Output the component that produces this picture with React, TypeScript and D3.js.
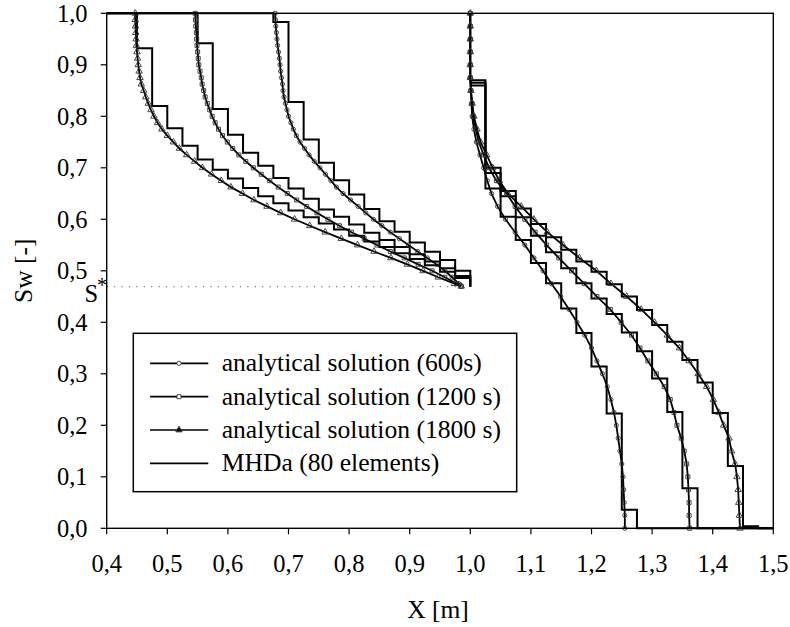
import React from "react";
import * as d3 from "d3";

// ---------- data ----------
const xTicks = [0.4, 0.5, 0.6, 0.7, 0.8, 0.9, 1.0, 1.1, 1.2, 1.3, 1.4, 1.5];
const xTickLabels = ["0,4", "0,5", "0,6", "0,7", "0,8", "0,9", "1,0", "1,1", "1,2", "1,3", "1,4", "1,5"];
const yTicks = [0, 0.1, 0.2, 0.3, 0.4, 0.5, 0.6, 0.7, 0.8, 0.9, 1.0];
const yTickLabels = ["0,0", "0,1", "0,2", "0,3", "0,4", "0,5", "0,6", "0,7", "0,8", "0,9", "1,0"];

const sStar = 0.469;

// analytical solution, left branch (saturation levels and positions)
const leftLevels = [1.0, 0.9875, 0.975, 0.9625, 0.95, 0.9375, 0.925, 0.9125, 0.9, 0.8875, 0.875, 0.8625, 0.85, 0.8375, 0.825, 0.8125, 0.8, 0.7875, 0.775, 0.7625, 0.75, 0.7375, 0.725, 0.7125, 0.7, 0.6875, 0.675, 0.6625, 0.65, 0.6375, 0.625, 0.6125, 0.6, 0.5875, 0.575, 0.5625, 0.55, 0.5375, 0.525, 0.5125, 0.5, 0.4875, 0.475, 0.47];
const left600 = [0.678, 0.6785, 0.679, 0.68, 0.681, 0.682, 0.6835, 0.685, 0.686, 0.687, 0.6885, 0.69, 0.691, 0.6925, 0.695, 0.6975, 0.7, 0.704, 0.708, 0.713, 0.719, 0.7265, 0.734, 0.7425, 0.752, 0.761, 0.77, 0.779, 0.79, 0.8025, 0.815, 0.8275, 0.84, 0.854, 0.868, 0.883, 0.898, 0.913, 0.929, 0.944, 0.958, 0.97, 0.981, 0.985];
const left1200 = [0.546, 0.5465, 0.547, 0.548, 0.5485, 0.549, 0.55, 0.551, 0.552, 0.554, 0.556, 0.5575, 0.56, 0.5625, 0.566, 0.57, 0.574, 0.579, 0.5845, 0.591, 0.599, 0.608, 0.618, 0.6295, 0.642, 0.655, 0.669, 0.683, 0.698, 0.7135, 0.73, 0.747, 0.765, 0.784, 0.804, 0.825, 0.846, 0.868, 0.891, 0.914, 0.937, 0.958, 0.978, 0.985];
const left1800 = [0.447, 0.447, 0.4475, 0.448, 0.4485, 0.449, 0.45, 0.451, 0.452, 0.4535, 0.455, 0.457, 0.461, 0.4645, 0.4685, 0.473, 0.478, 0.484, 0.491, 0.5, 0.51, 0.52, 0.532, 0.545, 0.558, 0.573, 0.589, 0.605, 0.624, 0.643, 0.6645, 0.687, 0.71, 0.735, 0.7605, 0.787, 0.814, 0.841, 0.869, 0.896, 0.922, 0.947, 0.974, 0.985];

// analytical solution, right branch
const rightLevels = [1.0, 0.975, 0.95, 0.925, 0.9, 0.875, 0.85, 0.825, 0.8, 0.775, 0.75, 0.725, 0.7, 0.675, 0.65, 0.625, 0.6, 0.575, 0.55, 0.525, 0.5, 0.475, 0.45, 0.425, 0.4, 0.375, 0.35, 0.325, 0.3, 0.275, 0.25, 0.225, 0.2, 0.175, 0.15, 0.125, 0.1, 0.075, 0.05, 0.025, 0.0];
const right600 = [1.0, 1.0, 1.0, 1.0, 1.0, 1.0, 1.001, 1.002, 1.003, 1.006, 1.01, 1.016, 1.022, 1.028, 1.035, 1.045, 1.058, 1.074, 1.09, 1.105, 1.12, 1.134, 1.149, 1.163, 1.176, 1.189, 1.2, 1.209, 1.218, 1.226, 1.232, 1.237, 1.241, 1.244, 1.247, 1.25, 1.252, 1.253, 1.254, 1.255, 1.255];
const right1200 = [1.0, 1.0, 1.0, 1.0, 1.0, 1.0, 1.001, 1.003, 1.005, 1.009, 1.014, 1.022, 1.031, 1.043, 1.06, 1.074, 1.09, 1.107, 1.126, 1.146, 1.167, 1.188, 1.209, 1.231, 1.249, 1.266, 1.28, 1.293, 1.307, 1.32, 1.33, 1.336, 1.341, 1.348, 1.353, 1.357, 1.359, 1.36, 1.361, 1.361, 1.362];
const right1800 = [1.0, 1.0, 1.0, 1.0, 1.0, 1.0, 1.001, 1.003, 1.006, 1.011, 1.017, 1.027, 1.037, 1.048, 1.062, 1.084, 1.105, 1.127, 1.153, 1.18, 1.208, 1.232, 1.258, 1.282, 1.304, 1.325, 1.345, 1.361, 1.376, 1.39, 1.401, 1.41, 1.418, 1.427, 1.431, 1.437, 1.44, 1.442, 1.443, 1.444, 1.445];

// MHDa (80 elements) cell edges and cell values
const leftEdges = [0.4, 0.425, 0.45, 0.475, 0.5, 0.525, 0.55, 0.575, 0.6, 0.625, 0.65, 0.675, 0.7, 0.725, 0.75, 0.775, 0.8, 0.825, 0.85, 0.875, 0.9, 0.925, 0.95, 0.975, 1.0];
const mhdLeft600 = [1, 1, 1, 1, 1, 1, 1, 1, 1, 1, 1, 0.983, 0.828, 0.755, 0.71, 0.676, 0.648, 0.62, 0.596, 0.576, 0.555, 0.537, 0.521, 0.5];
const mhdLeft1200 = [1, 1, 1, 1, 1, 1, 0.942, 0.814, 0.764, 0.729, 0.704, 0.68, 0.66, 0.64, 0.619, 0.605, 0.59, 0.574, 0.56, 0.546, 0.532, 0.518, 0.505, 0.49];
const mhdLeft1800 = [1, 1, 0.932, 0.82, 0.777, 0.743, 0.716, 0.696, 0.679, 0.661, 0.645, 0.631, 0.617, 0.604, 0.592, 0.58, 0.568, 0.557, 0.546, 0.534, 0.523, 0.511, 0.498, 0.486];

const rightEdges = [1.0, 1.025, 1.05, 1.075, 1.1, 1.125, 1.15, 1.175, 1.2, 1.225, 1.25, 1.275, 1.3, 1.325, 1.35, 1.375, 1.4, 1.425, 1.45, 1.475, 1.5];
const mhdRight600 = [0.86, 0.66, 0.605, 0.56, 0.515, 0.476, 0.427, 0.379, 0.314, 0.223, 0.036, 0, 0, 0, 0, 0, 0, 0, 0, 0];
const mhdRight1200 = [0.865, 0.69, 0.645, 0.604, 0.568, 0.536, 0.505, 0.476, 0.446, 0.416, 0.38, 0.344, 0.291, 0.226, 0.078, 0, 0, 0, 0, 0];
const mhdRight1800 = [0.87, 0.7, 0.655, 0.621, 0.591, 0.565, 0.541, 0.518, 0.498, 0.474, 0.45, 0.424, 0.395, 0.362, 0.327, 0.283, 0.224, 0.121, 0.004, 0];

const legendLabels = [
  "analytical solution (600s)",
  "analytical solution (1200 s)",
  "analytical solution (1800 s)",
  "MHDa (80 elements)",
];

// ---------- drawing ----------
const W = 790;
const H = 627;
const FONT = "Liberation Serif";

const x = d3.scaleLinear().domain([0.4, 1.5]).range([106.7, 773.3]);
const y = d3.scaleLinear().domain([0, 1]).range([528.3, 13.3]);

type P = [number, number];
const lineGen = d3.line<P>().x((d) => x(d[0])).y((d) => y(d[1]));
const stepGen = d3
  .line<P>()
  .x((d) => x(d[0]))
  .y((d) => y(d[1]))
  .curve(d3.curveStepAfter);

function stairPoints(edges: number[], vals: number[], tail?: number): P[] {
  const pts: P[] = vals.map((v, i) => [edges[i], v] as P);
  pts.push([edges[edges.length - 1], vals[vals.length - 1]]);
  if (tail !== undefined) pts.push([edges[edges.length - 1], tail]);
  return pts;
}

const symCircle = d3.symbol().type(d3.symbolCircle).size(14)() as string;
const symSquare = d3.symbol().type(d3.symbolSquare).size(16)() as string;
const symTriangle = d3.symbol().type(d3.symbolTriangle).size(18)() as string;

const series = [
  { left: left600, right: right600, sym: symCircle },
  { left: left1200, right: right1200, sym: symSquare },
  { left: left1800, right: right1800, sym: symTriangle },
];

const stairs = [
  stairPoints(leftEdges, mhdLeft600, sStar),
  stairPoints(leftEdges, mhdLeft1200, sStar),
  stairPoints(leftEdges, mhdLeft1800, sStar),
  stairPoints(rightEdges, mhdRight600),
  stairPoints(rightEdges, mhdRight1200),
  stairPoints(rightEdges, mhdRight1800),
];

const textStyle = { fontFamily: FONT };

export default function App() {
  const [x0, x1] = x.range();
  const [y0, y1] = y.range();
  const legX = 133.3;
  const legY = 333.3;
  const legRows = [363.3, 396.7, 430, 463.3];
  return (
    <svg
      width={W}
      height={H}
      style={{ position: "absolute", left: 0, top: 0, background: "#fff" }}
    >
      <rect x={0} y={0} width={W} height={H} fill="#fff" />

      {/* S* dotted line */}
      <line
        x1={x0}
        x2={x(0.99)}
        y1={y(sStar)}
        y2={y(sStar)}
        stroke="#555"
        strokeWidth={1.2}
        strokeDasharray="1.2,6.2"
      />

      {/* MHDa staircases */}
      {stairs.map((pts, i) => (
        <path
          key={"st" + i}
          d={stepGen(pts) as string}
          fill="none"
          stroke="#000"
          strokeWidth={2}
          strokeLinejoin="miter"
        />
      ))}

      {/* analytical curves */}
      {series.map((s, i) => (
        <g key={"an" + i}>
          <path
            d={lineGen(leftLevels.map((lv, k) => [s.left[k], lv] as P)) as string}
            fill="none"
            stroke="#000"
            strokeWidth={1.8}
          />
          <path
            d={lineGen(rightLevels.map((lv, k) => [s.right[k], lv] as P)) as string}
            fill="none"
            stroke="#000"
            strokeWidth={1.8}
          />
          {leftLevels.map((lv, k) => (
            <path
              key={"ml" + k}
              d={s.sym}
              transform={`translate(${x(s.left[k])},${y(lv)})`}
              fill="none"
              stroke="#333"
              strokeWidth={0.9}
            />
          ))}
          {rightLevels.map((lv, k) => (
            <path
              key={"mr" + k}
              d={s.sym}
              transform={`translate(${x(s.right[k])},${y(lv)})`}
              fill="none"
              stroke="#333"
              strokeWidth={0.9}
            />
          ))}
        </g>
      ))}

      {/* frame */}
      <rect
        x={x0}
        y={y1}
        width={x1 - x0}
        height={y0 - y1}
        fill="none"
        stroke="#000"
        strokeWidth={1.4}
      />

      {/* x ticks */}
      {xTicks.map((t, i) => (
        <g key={"xt" + i}>
          <line x1={x(t)} x2={x(t)} y1={y0} y2={y0 + 6} stroke="#000" strokeWidth={1.2} />
          <text x={x(t)} y={572} fontSize={24.5} textAnchor="middle" fill="#000" style={textStyle}>
            {xTickLabels[i]}
          </text>
        </g>
      ))}

      {/* y ticks */}
      {yTicks.map((t, i) => (
        <g key={"yt" + i}>
          <line x1={x0 - 6} x2={x0} y1={y(t)} y2={y(t)} stroke="#000" strokeWidth={1.2} />
          <text x={87.5} y={y(t) + 8.5} fontSize={24.5} textAnchor="end" fill="#000" style={textStyle}>
            {yTickLabels[i]}
          </text>
        </g>
      ))}

      {/* S* label */}
      <text x={84.5} y={302} fontSize={24.5} fill="#000" style={textStyle}>
        S
      </text>
      <text x={97} y={292} fontSize={20} fill="#000" style={textStyle}>
        *
      </text>

      {/* axis titles */}
      <text x={438} y={618} fontSize={25.5} textAnchor="middle" fill="#000" style={textStyle}>
        X [m]
      </text>
      <text
        transform={`translate(32,${y(0.5)}) rotate(-90)`}
        fontSize={25.5}
        textAnchor="middle"
        fill="#000"
        style={textStyle}
      >
        Sw [-]
      </text>

      {/* legend */}
      <rect
        x={legX}
        y={legY}
        width={516.7 - legX}
        height={491.7 - legY}
        fill="#fff"
        stroke="#000"
        strokeWidth={1.5}
      />
      {legendLabels.map((lab, i) => (
        <g key={"lg" + i}>
          <line x1={150} x2={208.3} y1={legRows[i]} y2={legRows[i]} stroke="#000" strokeWidth={1.7} />
          {i < 3 && (
            <path
              d={series[i].sym}
              transform={`translate(179,${legRows[i]})`}
              fill={i === 2 ? "#000" : "#fff"}
              stroke="#333"
              strokeWidth={0.9}
            />
          )}
          <text x={221.7} y={legRows[i] + 8} fontSize={25.6} fill="#000" style={textStyle}>
            {lab}
          </text>
        </g>
      ))}
    </svg>
  );
}
